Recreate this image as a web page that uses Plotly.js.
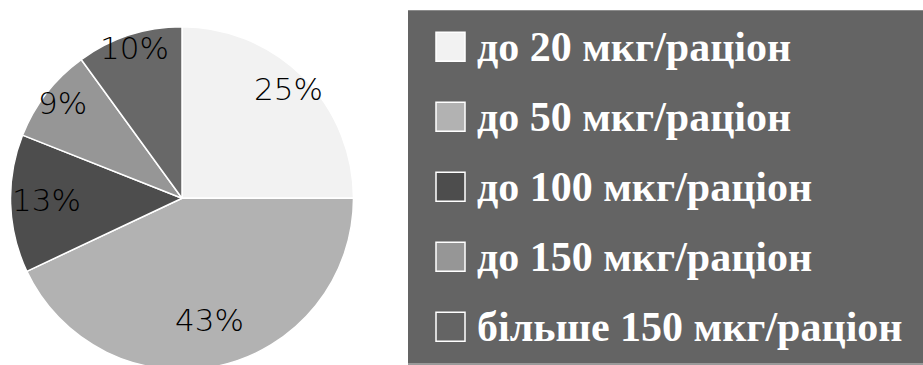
<!DOCTYPE html>
<html>
<head>
<meta charset="utf-8">
<script src="https://cdn.plot.ly/plotly-3.0.1.min.js"></script>
<style>
  html, body { margin: 0; padding: 0; background: #ffffff; overflow: hidden; }
  #chart { width: 923px; height: 372px; }
</style>
</head>
<body>
<div id="chart"></div>
<script>
// ---- data ----
var categories = ["до 20 мкг/раціон", "до 50 мкг/раціон", "до 100 мкг/раціон", "до 150 мкг/раціон", "більше 150 мкг/раціон"];
var shares = [25, 43, 13, 9, 10];
var sliceColors = ["#f2f2f2", "#b2b2b2", "#4d4d4d", "#969696", "#686868"];

// ---- layout constants (pixels) ----
var W = 923, H = 372;
var cx = 182, cy = 198.3, R = 171.5;           // pie geometry
var labelRadius = [0.875, 0.745, 0.79, 0.88, 0.905]; // label distance as fraction of R
var labelLift = 3;                              // px upward nudge for visual centering
var legendBox = {x0: 408, x1: 923, y0: 10.3, y1: 363};
var rowY0 = 46.7, rowStep = 70;
var swX0 = 436, swX1 = 465, swH = 29;
var txtX = 475;

function px(x) { return x / W; }
function py(y) { return 1 - y / H; }

var trace = {
  type: "pie",
  labels: categories,
  values: shares,
  sort: false,
  direction: "clockwise",
  rotation: 0,
  textinfo: "none",
  hoverinfo: "label+percent",
  showlegend: false,
  marker: { colors: sliceColors, line: { color: "#ffffff", width: 1.5 } },
  domain: { x: [px(cx - R), px(cx + R)], y: [py(cy + R), py(cy - R)] }
};

var shapes = [];
var annotations = [];

// legend background
shapes.push({
  type: "rect", xref: "paper", yref: "paper", layer: "below",
  x0: px(legendBox.x0), x1: px(legendBox.x1), y0: py(legendBox.y1), y1: py(legendBox.y0),
  fillcolor: "#646464", line: { width: 0 }
});
shapes.push({
  type: "rect", xref: "paper", yref: "paper", layer: "below",
  x0: px(legendBox.x0), x1: px(legendBox.x1), y0: py(H), y1: py(legendBox.y1),
  fillcolor: "#9a9a9a", line: { width: 0 }
});

// percent labels computed from the data
var total = shares.reduce(function (a, b) { return a + b; }, 0);
var cum = 0;
for (var i = 0; i < shares.length; i++) {
  var mid = (cum + shares[i] / 2) / total * 2 * Math.PI;
  cum += shares[i];
  var r = R * labelRadius[i];
  annotations.push({
    xref: "paper", yref: "paper",
    x: px(cx + r * Math.sin(mid)), y: py(cy - r * Math.cos(mid) - labelLift),
    xanchor: "center", yanchor: "middle",
    text: shares[i] + "%", showarrow: false,
    font: { family: "DejaVu Sans", size: 31, color: "#000000", weight: 300 }
  });
}

// legend entries
for (var j = 0; j < categories.length; j++) {
  var yc = rowY0 + j * rowStep;
  shapes.push({
    type: "rect", xref: "paper", yref: "paper",
    x0: px(swX0), x1: px(swX1), y0: py(yc + swH / 2), y1: py(yc - swH / 2),
    fillcolor: j === 4 ? "#646464" : sliceColors[j],
    line: { color: "#ffffff", width: 1.5 }
  });
  annotations.push({
    xref: "paper", yref: "paper",
    x: px(txtX), y: py(yc), xanchor: "left", yanchor: "middle",
    text: "<b>" + categories[j] + "</b>", showarrow: false,
    font: { family: "Liberation Serif", size: 42, color: "#ffffff" }
  });
}

var layout = {
  width: W, height: H,
  margin: { l: 0, r: 0, t: 0, b: 0 },
  paper_bgcolor: "#ffffff",
  showlegend: false,
  shapes: shapes,
  annotations: annotations
};

Plotly.newPlot("chart", [trace], layout, { displayModeBar: false, staticPlot: true });
</script>
</body>
</html>
